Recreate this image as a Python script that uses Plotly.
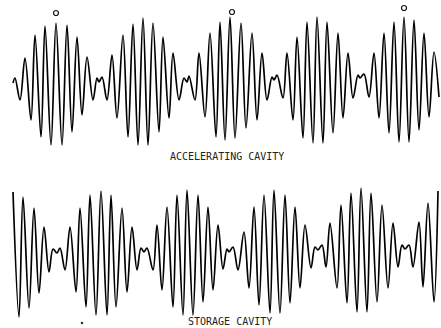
import plotly.graph_objects as go

# ---- data (time in arbitrary units, amplitude relative to each trace's centre) ----
acc_t = [13, 15, 20, 25, 31, 35, 41, 45, 51, 56, 62, 67, 72, 77, 82, 87, 93, 97, 99, 102, 107,
         112, 117, 123, 128, 133, 138, 143, 148, 153, 159, 163, 169, 173, 179, 184, 187, 189, 195,
         199, 205, 210, 216, 220, 225, 230, 235, 241, 246, 252, 257, 262, 267, 272, 274, 277, 283,
         287, 293, 297, 303, 307, 313, 317, 323, 327, 333, 338, 343, 348, 353, 358, 360, 364, 369,
         374, 379, 384, 389, 394, 399, 404, 409, 414, 419, 424, 429, 434, 439]
acc_y = [83, 78, 100, 58, 120, 35, 137, 26, 145, 23, 145, 25, 132, 37, 115, 57, 100, 78, 82, 77, 100,
         55, 118, 35, 137, 24, 145, 18, 145, 23, 132, 37, 118, 53, 100, 78, 82, 76, 100,
         53, 117, 33, 137, 22, 140, 17, 138, 23, 128, 33, 120, 53, 100, 77, 80, 75, 98,
         53, 120, 37, 138, 22, 143, 17, 143, 22, 133, 33, 118, 53, 98, 75, 78, 74, 97,
         53, 118, 33, 133, 22, 142, 17, 142, 20, 130, 33, 117, 52, 97]

sto_t = [13, 19, 23, 29, 34, 39, 44, 49, 53, 57, 60, 65, 70, 76, 80, 86, 90, 96, 101, 107,
         111, 116, 122, 127, 132, 137, 141, 144, 147, 153, 157, 162, 167, 173, 177, 183, 187, 193,
         198, 203, 208, 213, 218, 223, 227, 229, 233, 238, 244, 249, 254, 259, 264, 270, 274, 280,
         285, 290, 295, 300, 305, 311, 315, 318, 322, 326, 330, 337, 341, 347, 351, 357, 361, 367,
         371, 377, 382, 388, 393, 398, 402, 405, 409, 413, 419, 423, 428, 434, 438]
sto_y = [192, 317, 197, 308, 208, 293, 227, 272, 249, 253, 248, 270, 227, 292, 208, 307, 195, 315, 191, 315,
         195, 307, 208, 292, 227, 270, 248, 252, 248, 270, 225, 290, 207, 307, 195, 315, 190, 315,
         195, 302, 207, 290, 225, 269, 249, 252, 247, 270, 232, 288, 207, 305, 195, 313, 190, 313,
         195, 303, 207, 288, 225, 268, 247, 250, 245, 267, 223, 288, 205, 303, 193, 312, 188, 312,
         193, 302, 205, 288, 223, 267, 245, 249, 245, 267, 222, 287, 203, 302, 191]

acc_centre = 85
sto_centre = 252
acc_amp = [acc_centre - v for v in acc_y]
sto_amp = [sto_centre - v for v in sto_y]

mark_t = [56, 232, 404]
mark_amp = [72, 73, 77]
dot_t = [82]
dot_amp = [-71]

labels = ["ACCELERATING CAVITY", "STORAGE CAVITY"]

W, H = 441, 328
fig = go.Figure()
line = dict(color="#000000", width=1.7, shape="spline", smoothing=1.0)
fig.add_trace(go.Scatter(x=acc_t, y=acc_amp, mode="lines", line=line, xaxis="x", yaxis="y"))
fig.add_trace(go.Scatter(x=sto_t, y=sto_amp, mode="lines", line=line, xaxis="x", yaxis="y2"))
fig.add_trace(go.Scatter(x=mark_t, y=mark_amp, mode="markers", xaxis="x", yaxis="y",
                         marker=dict(symbol="circle-open", size=5, color="#111111", line=dict(width=1.2))))
fig.add_trace(go.Scatter(x=dot_t, y=dot_amp, mode="markers", xaxis="x", yaxis="y2",
                         marker=dict(symbol="circle", size=2.5, color="#333333")))

ax = dict(visible=False, showgrid=False, zeroline=False, fixedrange=True)
fig.update_layout(
    width=W, height=H, margin=dict(l=0, r=0, t=0, b=0),
    paper_bgcolor="white", plot_bgcolor="white", showlegend=False,
    xaxis=dict(range=[0, W], **ax),
    yaxis=dict(domain=[0.5, 1.0], range=[acc_centre - 164, acc_centre], **ax),
    yaxis2=dict(domain=[0.0, 0.5], range=[sto_centre - 328, sto_centre - 164], **ax),
    annotations=[
        dict(x=227, y=acc_centre - 156, xref="x", yref="y", text=labels[0], showarrow=False,
             font=dict(family="DejaVu Sans Mono", size=10, color="#222222")),
        dict(x=230, y=sto_centre - 321, xref="x", yref="y2", text=labels[1], showarrow=False,
             font=dict(family="DejaVu Sans Mono", size=10, color="#222222")),
    ],
)
fig.write_html("out.html", config={"displayModeBar": False},
               post_script="document.body.style.margin='0';document.body.style.padding='0';document.body.style.overflow='hidden';")
